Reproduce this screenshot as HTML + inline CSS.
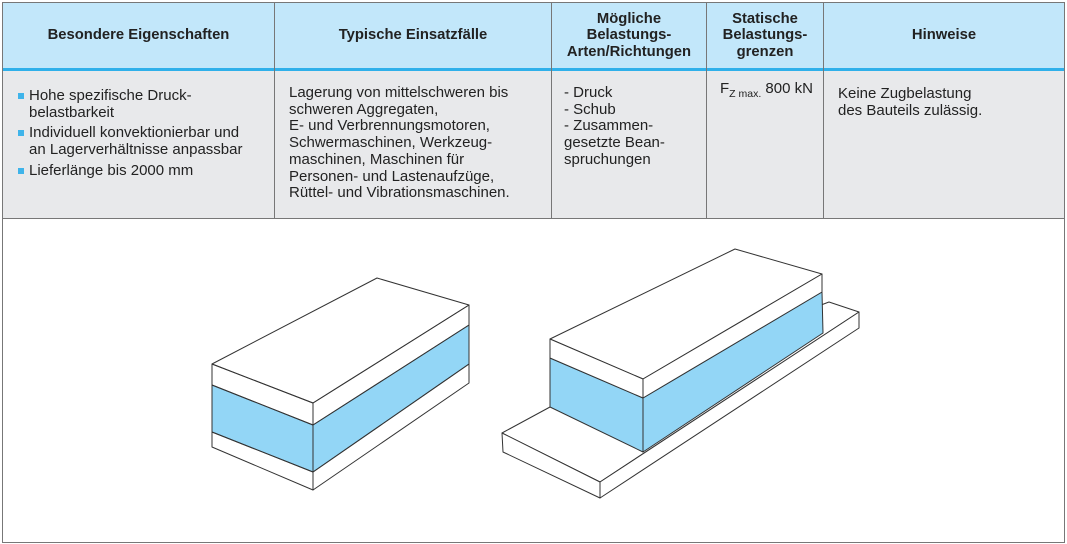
<!DOCTYPE html>
<html><head><meta charset="utf-8">
<style>
body{margin:0;width:1067px;height:544px;background:#fff;position:relative;overflow:hidden;font-family:"Liberation Sans",Arial,sans-serif;color:#222;}
.a{position:absolute;}
.hdr{top:3px;height:65px;background:#c2e7fa;font-weight:bold;font-size:14.8px;line-height:16.5px;display:flex;align-items:center;justify-content:center;text-align:center;}
.bd{top:71px;height:147px;background:#e8e9eb;font-size:15px;line-height:16.7px;white-space:nowrap;}
.vl{width:1px;background:#777;top:2px;height:217px;}
.sq{display:inline-block;width:6px;height:6px;background:#3fb4ea;margin-right:5px;vertical-align:1px;}
</style></head><body>
<div class="a hdr" style="left:3px;width:271px">Besondere Eigenschaften</div>
<div class="a hdr" style="left:275px;width:276px">Typische Einsatzfälle</div>
<div class="a hdr" style="left:552px;width:154px">Mögliche<br>Belastungs-<br>Arten/Richtungen</div>
<div class="a hdr" style="left:707px;width:116px">Statische<br>Belastungs-<br>grenzen</div>
<div class="a hdr" style="left:824px;width:240px">Hinweise</div>
<div class="a" style="left:3px;top:68px;width:1061px;height:3px;background:#2fb0ea"></div>
<div class="a bd" style="left:3px;width:271px"><div style="padding:16px 0 0 15px;line-height:17px">
<div><span class="sq"></span>Hohe spezifische Druck-<br><span style="padding-left:11px">belastbarkeit</span></div>
<div style="margin-top:3px"><span class="sq"></span>Individuell konvektionierbar und<br><span style="padding-left:11px">an Lagerverhältnisse anpassbar</span></div>
<div style="margin-top:4px"><span class="sq"></span>Lieferlänge bis 2000 mm</div></div></div>
<div class="a bd" style="left:275px;width:276px"><div style="padding:14px 0 0 14px">Lagerung von mittelschweren bis<br>schweren Aggregaten,<br>E- und Verbrennungsmotoren,<br>Schwermaschinen, Werkzeug-<br>maschinen, Maschinen für<br>Personen- und Lastenaufzüge,<br>Rüttel- und Vibrationsmaschinen.</div></div>
<div class="a bd" style="left:552px;width:154px"><div style="padding:14px 0 0 12px">- Druck<br>- Schub<br>- Zusammen-<br>gesetzte Bean-<br>spruchungen</div></div>
<div class="a bd" style="left:707px;width:116px"><div style="padding:10px 0 0 13px">F<sub style="font-size:10.5px">Z max.</sub> 800 kN</div></div>
<div class="a bd" style="left:824px;width:240px"><div style="padding:15px 0 0 14px">Keine Zugbelastung<br>des Bauteils zulässig.</div></div>
<div class="a vl" style="left:274px"></div>
<div class="a vl" style="left:551px"></div>
<div class="a vl" style="left:706px"></div>
<div class="a vl" style="left:823px"></div>
<div class="a" style="left:2px;top:2px;width:1061px;height:539px;border:1px solid #777"></div>
<div class="a" style="left:2px;top:218px;width:1062px;height:1px;background:#777"></div>
<svg class="a" style="left:0;top:0" width="1067" height="544" fill="none" stroke="#333" stroke-width="1" stroke-linejoin="round">
<polygon points="212,385 313,425 313,472 212,432" fill="#93d6f6"/>
<polygon points="313,425 469,325 469,364 313,472" fill="#93d6f6"/>
<polygon points="212,364 377,278 469,305 313,403" fill="#fff"/>
<polygon points="212,364 313,403 313,490 212,447"/>
<polygon points="313,403 469,305 469,383 313,490"/>
<line x1="212" y1="385" x2="313" y2="425"/><line x1="313" y1="425" x2="469" y2="325"/>
<line x1="212" y1="432" x2="313" y2="472"/><line x1="313" y1="472" x2="469" y2="364"/>
<polygon points="502,433 550,407 829,302 859,312 600,482" fill="#fff"/>
<polygon points="502,433 600,482 600,498 503,452" fill="#fff"/>
<polygon points="600,482 859,312 859,328 600,498" fill="#fff"/>
<polygon points="550,358 643,398 643,452 550,407" fill="#93d6f6"/>
<polygon points="643,398 822,292 823,333 643,452" fill="#93d6f6"/>
<polygon points="550,339 735,249 822,274 643,379" fill="#fff"/>
<polygon points="550,339 643,379 643,398 550,358" fill="#fff"/>
<polygon points="643,379 822,274 822,292 643,398" fill="#fff"/>
</svg>
</body></html>
